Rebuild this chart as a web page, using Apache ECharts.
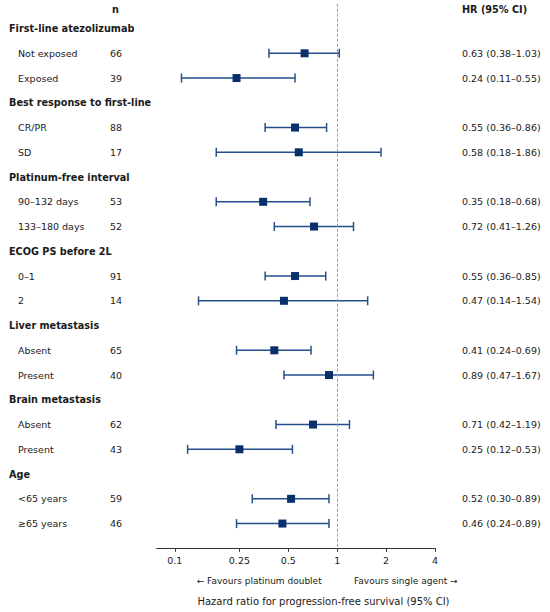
<!DOCTYPE html>
<html>
<head>
<meta charset="utf-8">
<script src="https://cdn.jsdelivr.net/npm/echarts@6/dist/echarts.min.js"></script>
<style>
  html, body { margin: 0; padding: 0; background: #ffffff; }
  #chart { width: 550px; height: 612px; }
</style>
</head>
<body>
<div id="chart"></div>
<script>
// ---- data ----
const rowLabels = ['First-line atezolizumab', 'Not exposed', 'Exposed',
  'Best response to first-line', 'CR/PR', 'SD',
  'Platinum-free interval', '90–132 days', '133–180 days',
  'ECOG PS before 2L', '0–1', '2',
  'Liver metastasis', 'Absent', 'Present',
  'Brain metastasis', 'Absent', 'Present',
  'Age', '<65 years', '≥65 years'];
const isHeader = [true, false, false, true, false, false, true, false, false, true, false, false,
  true, false, false, true, false, false, true, false, false];
const nValues = [null, 66, 39, null, 88, 17, null, 53, 52, null, 91, 14, null, 65, 40, null, 62, 43, null, 59, 46];
const hrValues = [null, 0.63, 0.24, null, 0.55, 0.58, null, 0.35, 0.72, null, 0.55, 0.47,
  null, 0.41, 0.89, null, 0.71, 0.25, null, 0.52, 0.46];
const ciLow = [null, 0.38, 0.11, null, 0.36, 0.18, null, 0.18, 0.41, null, 0.36, 0.14,
  null, 0.24, 0.47, null, 0.42, 0.12, null, 0.30, 0.24];
const ciHigh = [null, 1.03, 0.55, null, 0.86, 1.86, null, 0.68, 1.26, null, 0.85, 1.54,
  null, 0.69, 1.67, null, 1.19, 0.53, null, 0.89, 0.89];
const hrText = [null, '0.63 (0.38–1.03)', '0.24 (0.11–0.55)', null, '0.55 (0.36–0.86)', '0.58 (0.18–1.86)',
  null, '0.35 (0.18–0.68)', '0.72 (0.41–1.26)', null, '0.55 (0.36–0.85)', '0.47 (0.14–1.54)',
  null, '0.41 (0.24–0.69)', '0.89 (0.47–1.67)', null, '0.71 (0.42–1.19)', '0.25 (0.12–0.53)',
  null, '0.52 (0.30–0.89)', '0.46 (0.24–0.89)'];
const tickValues = [0.1, 0.25, 0.5, 1, 2, 4];
const tickLabels = ['0.1', '0.25', '0.5', '1', '2', '4'];
const axisMinHR = 0.0774;
const axisMaxHR = 4;

// ---- build ----
const FONT = 'DejaVu Sans';
const TXT = '#1a1a1a';
const lg = v => Math.log10(v);

const pointData = [];
const ciData = [];
hrValues.forEach((v, i) => {
  if (v != null) {
    pointData.push([lg(v), i]);
    ciData.push([lg(ciLow[i]), lg(ciHigh[i]), i]);
  }
});

function rowOf(v) {
  const i = Math.round(v);
  return (Math.abs(v - i) < 1e-6 && i >= 0 && i < rowLabels.length) ? i : -1;
}

const yBase = {
  type: 'value', inverse: true, min: -1, max: 21, interval: 1,
  axisLine: { show: false, onZero: false }, axisTick: { show: false }, splitLine: { show: false }
};

const chart = echarts.init(document.getElementById('chart'), null, { renderer: 'svg' });
chart.setOption({
  animation: false,
  backgroundColor: '#ffffff',
  textStyle: { fontFamily: FONT },
  grid: { left: 156.7, right: 115, top: 3.8, bottom: 63.7, containLabel: false, outerBoundsMode: 'none' },
  xAxis: {
    type: 'value',
    position: 'bottom',
    min: lg(axisMinHR), max: lg(axisMaxHR),
    splitLine: { show: false },
    axisLine: { show: true, onZero: false, lineStyle: { color: '#333333', width: 1 } },
    axisTick: { show: true, length: 3.5, lineStyle: { color: '#333333' }, customValues: tickValues.map(lg) },
    axisLabel: {
      customValues: tickValues.map(lg),
      margin: 7, fontFamily: FONT, fontSize: 9.5, color: TXT,
      formatter: v => {
        const k = tickValues.findIndex(t => Math.abs(lg(t) - v) < 1e-6);
        return k >= 0 ? tickLabels[k] : '';
      }
    }
  },
  yAxis: [
    Object.assign({}, yBase, {
      position: 'left',
      axisLabel: {
        align: 'left', margin: 147.7, fontFamily: FONT, fontSize: 9.5, color: TXT,
        formatter: v => {
          const i = rowOf(v);
          if (i < 0) return '';
          return isHeader[i] ? '{h|' + rowLabels[i] + '}' : '{s|' + rowLabels[i] + '}';
        },
        rich: {
          h: { fontFamily: FONT, fontSize: 9.7, fontWeight: 'bold', color: TXT },
          s: { fontFamily: FONT, fontSize: 9.5, color: TXT, padding: [0, 0, 0, 9] }
        }
      }
    }),
    Object.assign({}, yBase, {
      position: 'left',
      axisLabel: {
        align: 'left', margin: 46.7, fontFamily: FONT, fontSize: 9.5, color: TXT,
        formatter: v => {
          const i = rowOf(v);
          return (i >= 0 && nValues[i] != null) ? String(nValues[i]) : '';
        }
      }
    }),
    Object.assign({}, yBase, {
      position: 'right',
      axisLabel: {
        align: 'left', margin: 27, fontFamily: FONT, fontSize: 9.5, color: TXT,
        formatter: v => {
          const i = rowOf(v);
          return (i >= 0 && hrText[i] != null) ? hrText[i] : '';
        }
      }
    })
  ],
  series: [
    {
      type: 'custom',
      yAxisIndex: 0,
      data: ciData,
      z: 2,
      renderItem: (params, api) => {
        const y = api.value(2);
        const p1 = api.coord([api.value(0), y]);
        const p2 = api.coord([api.value(1), y]);
        const cap = 4.5;
        const style = { stroke: '#254f8c', lineWidth: 1.5, fill: null };
        return {
          type: 'group',
          children: [
            { type: 'line', shape: { x1: p1[0], y1: p1[1], x2: p2[0], y2: p2[1] }, style },
            { type: 'line', shape: { x1: p1[0], y1: p1[1] - cap, x2: p1[0], y2: p1[1] + cap }, style },
            { type: 'line', shape: { x1: p2[0], y1: p2[1] - cap, x2: p2[0], y2: p2[1] + cap }, style }
          ]
        };
      }
    },
    {
      type: 'scatter',
      yAxisIndex: 0,
      data: pointData,
      symbol: 'rect',
      symbolSize: 8,
      z: 3,
      itemStyle: { color: '#08306b', opacity: 1 },
      markLine: {
        silent: true,
        symbol: 'none',
        label: { show: false },
        lineStyle: { type: [3, 2], color: '#9a9a9a', width: 1 },
        data: [{ xAxis: 0 }]
      }
    }
  ],
  graphic: [
    { type: 'text', x: 115.5, y: 9.5, style: { text: 'n', font: 'bold 9.7px "DejaVu Sans"', fill: TXT, align: 'center', verticalAlign: 'middle' } },
    { type: 'text', x: 462, y: 9.5, style: { text: 'HR (95% CI)', font: 'bold 9.7px "DejaVu Sans"', fill: TXT, align: 'left', verticalAlign: 'middle' } },
    { type: 'text', x: 321.7, y: 581, style: { text: '← Favours platinum doublet', font: '9px "DejaVu Sans"', fill: TXT, align: 'right', verticalAlign: 'middle' } },
    { type: 'text', x: 354, y: 581, style: { text: 'Favours single agent →', font: '9px "DejaVu Sans"', fill: TXT, align: 'left', verticalAlign: 'middle' } },
    { type: 'text', x: 323.5, y: 601.7, style: { text: 'Hazard ratio for progression-free survival (95% CI)', font: '10px "DejaVu Sans"', fill: TXT, align: 'center', verticalAlign: 'middle' } }
  ]
});
</script>
</body>
</html>
